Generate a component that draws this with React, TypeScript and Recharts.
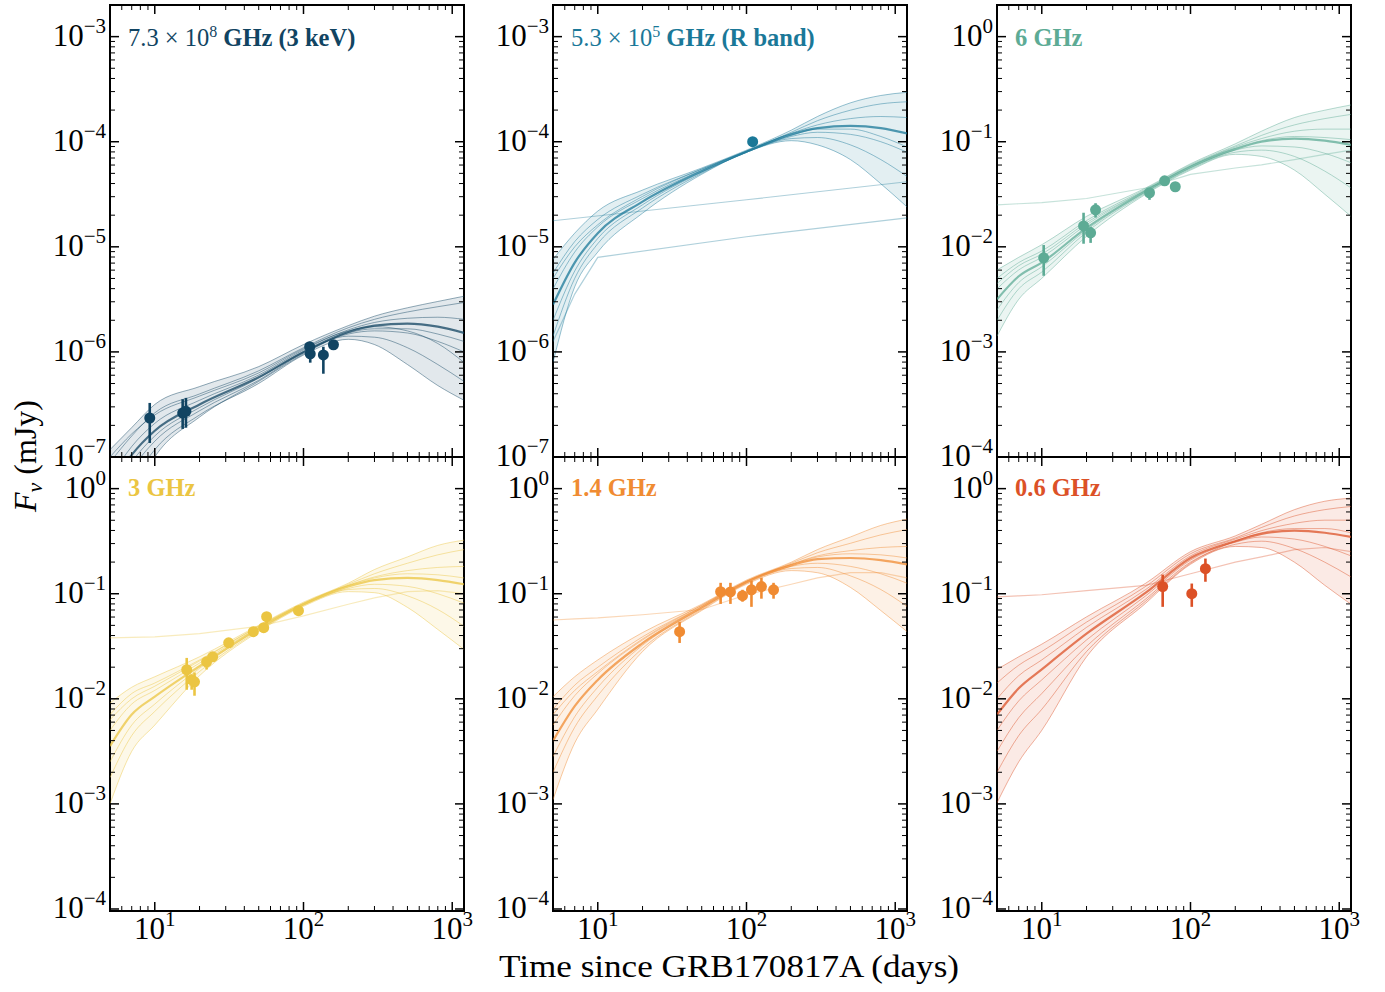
import React from "react";
import {
  Area,
  ComposedChart,
  ErrorBar,
  Line,
  ReferenceArea,
  Scatter,
  XAxis,
  YAxis,
} from "recharts";

// model grid (days)
const TIMES = [5, 7, 10, 20, 50, 100, 200, 300, 500, 800, 1200];

// model light curves, log10 F (mJy) at TIMES
const XRAY_MODELS = [
  [-6.93, -6.72, -6.5, -6.33, -6.14, -5.93, -5.75, -5.66, -5.58, -5.52, -5.47],
  [-7.05, -6.8, -6.58, -6.4, -6.18, -5.96, -5.77, -5.69, -5.62, -5.57, -5.53],
  [-7.2, -6.9, -6.68, -6.46, -6.22, -5.98, -5.79, -5.72, -5.68, -5.67, -5.69],
  [-7.3, -6.98, -6.75, -6.5, -6.24, -6.0, -5.81, -5.75, -5.73, -5.76, -5.82],
  [-7.4, -7.05, -6.8, -6.53, -6.25, -6.0, -5.83, -5.8, -5.82, -5.9, -6.0],
  [-7.5, -7.12, -6.85, -6.56, -6.27, -6.01, -5.85, -5.86, -5.96, -6.12, -6.28],
  [-7.7, -7.25, -6.93, -6.6, -6.3, -6.03, -5.88, -5.93, -6.12, -6.32, -6.46],
  [-7.9, -7.4, -7.0, -6.62, -6.28, -6.02, -5.82, -5.78, -5.78, -5.83, -5.9],
  [-7.0, -6.78, -6.6, -6.42, -6.2, -5.97, -5.8, -5.76, -5.8, -5.92, -6.1],
];
const RBAND_MODELS = [
  [-5.12, -4.87, -4.66, -4.46, -4.25, -4.08, -3.89, -3.76, -3.63, -3.56, -3.53],
  [-5.25, -4.95, -4.74, -4.5, -4.26, -4.09, -3.91, -3.8, -3.7, -3.64, -3.62],
  [-5.4, -5.05, -4.81, -4.54, -4.27, -4.09, -3.92, -3.84, -3.78, -3.76, -3.77],
  [-5.55, -5.15, -4.87, -4.57, -4.28, -4.095, -3.93, -3.87, -3.85, -3.87, -3.92],
  [-5.7, -5.23, -4.92, -4.6, -4.29, -4.1, -3.95, -3.91, -3.93, -4.0, -4.1],
  [-5.85, -5.3, -4.97, -4.63, -4.3, -4.1, -3.97, -3.96, -4.03, -4.17, -4.33],
  [-6.1, -5.38, -5.05, -4.68, -4.31, -4.1, -3.99, -4.03, -4.17, -4.4, -4.62],
  [-5.3, -5.0, -4.79, -4.52, -4.26, -4.09, -3.94, -3.88, -3.88, -3.95, -4.05],
];
const GHZ6_MODELS = [
  [-2.22, -2.1, -1.98, -1.71, -1.44, -1.21, -1.02, -0.9, -0.77, -0.7, -0.65],
  [-2.3, -2.15, -2.04, -1.75, -1.45, -1.22, -1.04, -0.94, -0.84, -0.78, -0.74],
  [-2.4, -2.22, -2.1, -1.79, -1.46, -1.23, -1.05, -0.97, -0.9, -0.88, -0.88],
  [-2.5, -2.28, -2.15, -1.82, -1.47, -1.24, -1.07, -1.0, -0.97, -0.99, -1.03],
  [-2.6, -2.34, -2.19, -1.84, -1.48, -1.25, -1.08, -1.04, -1.05, -1.11, -1.2],
  [-2.7, -2.4, -2.24, -1.86, -1.49, -1.26, -1.1, -1.08, -1.14, -1.28, -1.44],
  [-2.85, -2.5, -2.3, -1.9, -1.5, -1.27, -1.12, -1.14, -1.27, -1.5, -1.71],
  [-2.35, -2.18, -2.07, -1.77, -1.46, -1.23, -1.06, -0.99, -0.95, -0.96, -0.98],
];
const GHZ3_MODELS = [
  [-2.04, -1.89, -1.79, -1.6, -1.3, -1.08, -0.9, -0.77, -0.65, -0.54, -0.49],
  [-2.15, -1.95, -1.85, -1.63, -1.31, -1.09, -0.91, -0.81, -0.71, -0.63, -0.58],
  [-2.3, -2.05, -1.92, -1.66, -1.32, -1.1, -0.92, -0.84, -0.78, -0.75, -0.74],
  [-2.45, -2.15, -1.98, -1.69, -1.33, -1.1, -0.93, -0.87, -0.85, -0.87, -0.91],
  [-2.6, -2.25, -2.05, -1.71, -1.34, -1.11, -0.95, -0.91, -0.93, -1.0, -1.09],
  [-2.75, -2.35, -2.12, -1.74, -1.35, -1.11, -0.96, -0.95, -1.02, -1.15, -1.31],
  [-3.0, -2.5, -2.25, -1.78, -1.36, -1.12, -0.98, -0.99, -1.13, -1.34, -1.53],
  [-2.2, -2.0, -1.88, -1.64, -1.31, -1.09, -0.92, -0.85, -0.81, -0.82, -0.85],
];
const GHZ14_MODELS = [
  [-1.98, -1.79, -1.63, -1.37, -1.1, -0.87, -0.7, -0.58, -0.46, -0.35, -0.29],
  [-2.1, -1.87, -1.7, -1.41, -1.11, -0.88, -0.71, -0.61, -0.52, -0.44, -0.39],
  [-2.25, -1.97, -1.76, -1.44, -1.12, -0.88, -0.72, -0.64, -0.59, -0.56, -0.55],
  [-2.4, -2.07, -1.82, -1.47, -1.13, -0.89, -0.73, -0.67, -0.66, -0.68, -0.72],
  [-2.55, -2.17, -1.89, -1.49, -1.14, -0.89, -0.74, -0.71, -0.74, -0.81, -0.9],
  [-2.7, -2.27, -1.97, -1.52, -1.15, -0.9, -0.76, -0.75, -0.83, -0.96, -1.12],
  [-2.96, -2.42, -2.1, -1.55, -1.16, -0.91, -0.78, -0.8, -0.94, -1.16, -1.36],
  [-2.15, -1.92, -1.74, -1.43, -1.11, -0.88, -0.72, -0.65, -0.62, -0.63, -0.66],
];
const GHZ06_MODELS = [
  [-1.72, -1.6, -1.48, -1.22, -0.9, -0.6, -0.45, -0.34, -0.2, -0.12, -0.09],
  [-1.85, -1.68, -1.55, -1.27, -0.93, -0.62, -0.47, -0.37, -0.26, -0.2, -0.17],
  [-2.0, -1.78, -1.63, -1.32, -0.96, -0.64, -0.48, -0.4, -0.33, -0.3, -0.3],
  [-2.15, -1.9, -1.72, -1.38, -0.99, -0.66, -0.5, -0.43, -0.4, -0.42, -0.46],
  [-2.3, -2.02, -1.82, -1.44, -1.02, -0.68, -0.51, -0.46, -0.48, -0.55, -0.64],
  [-2.5, -2.18, -1.95, -1.5, -1.05, -0.7, -0.53, -0.5, -0.57, -0.7, -0.84],
  [-2.99, -2.6, -2.3, -1.6, -1.09, -0.72, -0.55, -0.56, -0.7, -0.92, -1.1],
  [-2.7, -2.35, -2.1, -1.55, -1.07, -0.71, -0.5, -0.42, -0.38, -0.38, -0.42],
];

// odd shallow samples (null = not read)
const RBAND_EXTRA = [
  [-4.752, null, null, null, null, -4.552, null, null, null, null, -4.381],
  [-5.9, -5.45, -5.1, null, null, -4.904, null, null, null, null, -4.724],
];
const GHZ6_EXTRA = [[-1.6, -1.59, -1.58, -1.54, -1.44, -1.31, -1.25, -1.22, -1.17, -1.12, -1.08]];
const GHZ3_EXTRA = [[-1.42, -1.415, -1.41, -1.38, -1.31, -1.21, -1.1, -1.04, -0.98, -0.97, -1.0]];
const GHZ14_EXTRA = [[-1.25, -1.24, -1.23, -1.2, -1.15, -1.01, -0.91, -0.85, -0.8, -0.8, -0.85]];
const GHZ06_EXTRA = [[-1.03, -1.02, -1.01, -0.97, -0.92, -0.81, -0.7, -0.65, -0.58, -0.56, -0.6]];

// observations: [days, flux, low, high] (mJy)
const XRAY_OBS = [
  [9.25, 2.35e-7, 1.36e-7, 3.27e-7],
  [15.4, 2.62e-7, 1.85e-7, 3.55e-7],
  [16.2, 2.72e-7, 1.9e-7, 3.65e-7],
  [110, 1.12e-6, 1.12e-6, 1.12e-6],
  [111, 9.6e-7, 7.9e-7, 9.6e-7],
  [136, 9.35e-7, 6.2e-7, 1.12e-6],
  [159, 1.17e-6, 1.17e-6, 1.17e-6],
];
const RBAND_OBS = [[110, 1.0e-4, 1.0e-4, 1.0e-4]];
const GHZ6_OBS = [
  [10.3, 7.85e-3, 5.3e-3, 1.04e-2],
  [19.1, 1.58e-2, 1.07e-2, 2.11e-2],
  [21.3, 1.36e-2, 1.09e-2, 1.55e-2],
  [23.0, 2.25e-2, 1.9e-2, 2.6e-2],
  [53, 3.27e-2, 2.8e-2, 3.6e-2],
  [67, 4.25e-2, 4.0e-2, 4.5e-2],
  [79, 3.73e-2, 3.73e-2, 3.73e-2],
];
const GHZ3_OBS = [
  [16.4, 1.89e-2, 1.22e-2, 2.45e-2],
  [17.7, 1.52e-2, 1.22e-2, 1.7e-2],
  [18.5, 1.45e-2, 1.07e-2, 1.78e-2],
  [22.3, 2.25e-2, 1.9e-2, 2.5e-2],
  [24.5, 2.51e-2, 2.3e-2, 2.7e-2],
  [31.4, 3.41e-2, 3.2e-2, 3.6e-2],
  [46, 4.35e-2, 4.1e-2, 4.6e-2],
  [54, 4.75e-2, 4.4e-2, 5.2e-2],
  [56.5, 6.04e-2, 5.2e-2, 6.6e-2],
  [92.5, 6.9e-2, 6.9e-2, 6.9e-2],
];
const GHZ14_OBS = [
  [35.5, 4.35e-2, 3.4e-2, 5.4e-2],
  [67, 0.1045, 0.08, 0.127],
  [78, 0.104, 0.08, 0.127],
  [94, 0.0957, 0.084, 0.109],
  [108, 0.109, 0.075, 0.133],
  [126, 0.117, 0.0897, 0.142],
  [152, 0.109, 0.0897, 0.127],
];
const GHZ06_OBS = [
  [65, 0.117, 0.075, 0.152],
  [102, 0.1, 0.075, 0.125],
  [126, 0.173, 0.13, 0.216],
];

const X_TICKS = [6, 7, 8, 9, 10, 20, 30, 40, 50, 60, 70, 80, 90, 100, 200, 300, 400, 500, 600, 700, 800, 900, 1000];
const X_DOMAIN = [5, 1200];

const PANELS = [
  { col: 0, row: 0, color: "#114462", domain: [1e-7, 2e-3], models: XRAY_MODELS, extra: [], obs: XRAY_OBS, pre: "7.3 × 10", sup: "8", bold: "\u00a0GHz (3 keV)" },
  { col: 1, row: 0, color: "#1a7898", domain: [1e-7, 2e-3], models: RBAND_MODELS, extra: RBAND_EXTRA, obs: RBAND_OBS, pre: "5.3 × 10", sup: "5", bold: "\u00a0GHz (R band)" },
  { col: 2, row: 0, color: "#5dab95", domain: [1e-4, 2], models: GHZ6_MODELS, extra: GHZ6_EXTRA, obs: GHZ6_OBS, pre: "", sup: "", bold: "6 GHz" },
  { col: 0, row: 1, color: "#ebc542", domain: [9.57e-5, 2], models: GHZ3_MODELS, extra: GHZ3_EXTRA, obs: GHZ3_OBS, pre: "", sup: "", bold: "3 GHz" },
  { col: 1, row: 1, color: "#f08b32", domain: [9.57e-5, 2], models: GHZ14_MODELS, extra: GHZ14_EXTRA, obs: GHZ14_OBS, pre: "", sup: "", bold: "1.4 GHz" },
  { col: 2, row: 1, color: "#dc5127", domain: [9.57e-5, 2], models: GHZ06_MODELS, extra: GHZ06_EXTRA, obs: GHZ06_OBS, pre: "", sup: "", bold: "0.6 GHz" },
];

const FONT = "'Liberation Serif', 'Times New Roman', serif";
const PLOT_W = 354;
const COL_X = [110, 553, 997];
const ROW_Y = [5, 457];
const ROW_H = [452, 454];
const ML = 100;
const MR = 12;
const MT = 6;
// axes need a non-zero size to be drawn
const AX = 1;

const isMajor = (v: number) => {
  const l = Math.log10(v);
  return Math.abs(l - Math.round(l)) < 1e-6;
};
const expText = (v: number) => {
  const e = Math.round(Math.log10(v));
  return e < 0 ? "\u2212" + Math.abs(e) : String(e);
};

function logTicks(lo: number, hi: number) {
  const out: number[] = [];
  for (let e = Math.floor(Math.log10(lo)); e <= Math.ceil(Math.log10(hi)); e++) {
    for (let m = 1; m <= 9; m++) {
      const v = m * Math.pow(10, e);
      if (m === 1 ? v >= lo * 0.9999 && v <= hi * 1.0001 : v > lo && v < hi * 0.999) out.push(v);
    }
  }
  return out;
}

function makeXTick(h: number, showLabel: boolean) {
  return (props: any) => {
    const { x, y, payload } = props;
    const major = isMajor(payload.value);
    const len = major ? 9 : 5;
    const sw = major ? 1.5 : 1;
    return (
      <g>
        <line x1={x} y1={y} x2={x} y2={y - len} stroke="#000" strokeWidth={sw} />
        <line x1={x} y1={y - h} x2={x} y2={y - h + len} stroke="#000" strokeWidth={sw} />
        {showLabel && major && (
          <text x={x} y={y + 28} textAnchor="middle" fontFamily={FONT} fontSize={31} fill="#000">
            10<tspan dy={-13} fontSize={21}>{expText(payload.value)}</tspan>
          </text>
        )}
      </g>
    );
  };
}

function yTick(props: any) {
  const { x, y, payload } = props;
  const major = isMajor(payload.value);
  const len = major ? 9 : 5;
  const sw = major ? 1.5 : 1;
  return (
    <g>
      <line x1={x} y1={y} x2={x + len} y2={y} stroke="#000" strokeWidth={sw} />
      <line x1={x + PLOT_W} y1={y} x2={x + PLOT_W - len} y2={y} stroke="#000" strokeWidth={sw} />
      {major && (
        <text x={x - 4} y={y + 9} textAnchor="end" fontFamily={FONT} fontSize={31} fill="#000">
          10<tspan dy={-13} fontSize={21}>{expText(payload.value)}</tspan>
        </text>
      )}
    </g>
  );
}

function Panel({ p }: { p: any }) {
  const h = ROW_H[p.row];
  const MB = p.row === 1 ? 50 : 24;
  const rows = TIMES.map((t, i) => {
    const r: any = { t };
    const vals = p.models.map((m: number[]) => m[i]);
    p.models.forEach((m: number[], k: number) => (r["m" + k] = Math.pow(10, m[i])));
    r.band = [Math.pow(10, Math.min(...vals)), Math.pow(10, Math.max(...vals))];
    p.extra.forEach((m: (number | null)[], k: number) => {
      r["x" + k] = m[i] == null ? null : Math.pow(10, m[i] as number);
    });
    return r;
  });
  const obs = p.obs.map(([t, y, lo, hi]: number[]) => ({ t, y, err: [y - lo, hi - y] }));
  const [lo, hi] = p.domain;

  return (
    <div style={{ position: "absolute", left: COL_X[p.col] - ML - AX, top: ROW_Y[p.row] - MT }}>
      <ComposedChart
        width={PLOT_W + ML + MR + AX}
        height={h + MT + MB + AX}
        data={rows}
        margin={{ top: MT, right: MR, bottom: MB, left: ML }}
      >
        <XAxis
          dataKey="t"
          type="number"
          scale="log"
          domain={X_DOMAIN}
          allowDataOverflow
          ticks={X_TICKS}
          interval={0}
          height={AX}
          tickSize={0}
          tickMargin={0}
          axisLine={false}
          tickLine={false}
          tick={makeXTick(h, p.row === 1)}
        />
        <YAxis
          type="number"
          scale="log"
          domain={p.domain}
          allowDataOverflow
          ticks={logTicks(lo, hi)}
          interval={0}
          width={AX}
          tickSize={0}
          tickMargin={0}
          axisLine={false}
          tickLine={false}
          tick={yTick}
        />
        <Area
          dataKey="band"
          type="monotone"
          stroke="none"
          fill={p.color}
          fillOpacity={0.12}
          isAnimationActive={false}
        />
        {p.models.map((_: number[], k: number) => (
          <Line
            key={k}
            dataKey={"m" + k}
            type="monotone"
            stroke={p.color}
            strokeWidth={k === 3 ? 2.2 : 1}
            strokeOpacity={k === 3 ? 0.75 : 0.45}
            dot={false}
            isAnimationActive={false}
          />
        ))}
        {p.extra.map((_: any, k: number) => (
          <Line
            key={"x" + k}
            dataKey={"x" + k}
            type="linear"
            connectNulls
            stroke={p.color}
            strokeWidth={1.2}
            strokeOpacity={0.35}
            dot={false}
            isAnimationActive={false}
          />
        ))}
        <Scatter
          data={obs}
          dataKey="y"
          fill={p.color}
          isAnimationActive={false}
          shape={(s: any) => <circle cx={s.cx} cy={s.cy} r={5.5} fill={p.color} />}
        >
          <ErrorBar dataKey="err" direction="y" width={0} stroke={p.color} strokeWidth={2.6} />
        </Scatter>
        <ReferenceArea
          x1={X_DOMAIN[0]}
          x2={X_DOMAIN[1]}
          y1={lo}
          y2={hi}
          fill="none"
          fillOpacity={0}
          stroke="#000"
          strokeWidth={2}
          strokeOpacity={1}
          ifOverflow="visible"
        />
      </ComposedChart>
    </div>
  );
}

export default function App() {
  return (
    <div style={{ position: "absolute", left: 0, top: 0, width: 1385, height: 992, background: "#fff" }}>
      <svg width={1385} height={992} style={{ position: "absolute", left: 0, top: 0 }}>
        {PANELS.map((p, i) => (
          <text
            key={i}
            x={COL_X[p.col] + 18}
            y={p.row === 0 ? 46 : 496}
            fontFamily={FONT}
            fontSize={24.5}
            fill={p.color}
          >
            {p.pre}
            {p.sup && (
              <tspan dy={-9} fontSize={16}>
                {p.sup}
              </tspan>
            )}
            <tspan dy={p.sup ? 9 : 0} fontWeight="bold">
              {p.bold}
            </tspan>
          </text>
        ))}
        <text
          x={729}
          y={977}
          textAnchor="middle"
          fontFamily={FONT}
          fontSize={32}
          fill="#000"
          textLength={460}
          lengthAdjust="spacingAndGlyphs"
        >
          Time since GRB170817A (days)
        </text>
        <text
          x={36}
          y={456}
          transform="rotate(-90 36 456)"
          textAnchor="middle"
          fontFamily={FONT}
          fontSize={32}
          fill="#000"
        >
          <tspan fontStyle="italic">F</tspan>
          <tspan dy={6} fontSize={22} fontStyle="italic">ν</tspan>
          <tspan dy={-6}>{"\u00a0(mJy)"}</tspan>
        </text>
      </svg>
      {PANELS.map((p, i) => (
        <Panel key={i} p={p} />
      ))}
    </div>
  );
}
